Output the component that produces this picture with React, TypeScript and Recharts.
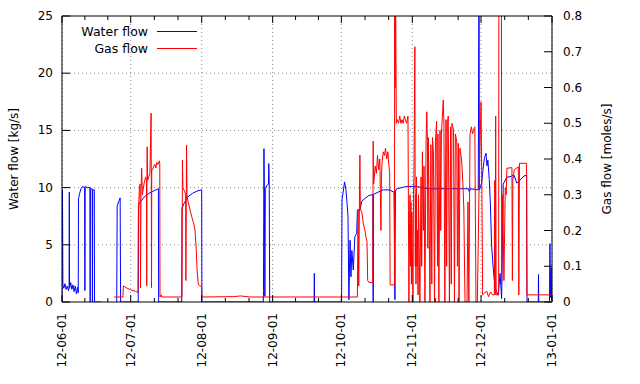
import React from "react"
import { CartesianGrid, Legend, Line, LineChart, XAxis, YAxis } from "recharts"

// days counted from 2012-06-01
const monthDays = [0, 30, 61, 92, 122, 153, 183, 214]
const monthLabels = [
  "12-06-01",
  "12-07-01",
  "12-08-01",
  "12-09-01",
  "12-10-01",
  "12-11-01",
  "12-12-01",
  "13-01-01"
]
const waterTicks = [0, 5, 10, 15, 20, 25]
const gasTicks = [0, 0.1, 0.2, 0.3, 0.4, 0.5, 0.6, 0.7, 0.8]

// [day, kg/s]  (null = no data)
const waterFlow: [number, number | null][] = [
  [0, 0], [0.2, 9.8], [0.4, 1.5], [0.8, 1.2], [1.3, 1.6], [1.8, 1.1], [2.3, 1.4],
  [2.8, 1.0], [3.1, 1.3], [3.2, 9.6], [3.3, 1.2], [3.8, 1.7], [4.3, 1.1], [4.8, 1.5],
  [5.3, 0.9], [5.8, 1.4], [6.3, 0.7], [6.8, 1.3], [7.1, 0.8], [7.2, 9.0], [7.7, 9.5],
  [8.3, 9.9], [9.0, 10.1], [9.9, 10.0], [10.0, 1.0], [10.1, 10.1], [11.0, 10.0],
  [12.2, 10.0], [12.3, 0], [12.4, 9.9], [13.2, 9.9], [13.3, 0], [13.4, 9.8], [14.1, 9.8],
  [14.2, 0], [17.0, 0], [20, null], [23.9, 0], [24.1, 8.4], [24.8, 8.8], [25.4, 9.1],
  [25.6, 0], [33.3, 0], [33.4, 8.5], [34.5, 8.8], [36, 9.2], [38, 9.5], [40, 9.7],
  [42.1, 9.9], [42.2, 0], [52.3, 0], [52.4, 8.2], [53.5, 8.7], [55, 9.2], [57, 9.5],
  [59, 9.7], [61.0, 9.8], [61.1, 0], [87.9, 0], [88.0, 1.0], [88.2, 13.4], [88.4, 9.2],
  [88.6, 0.5], [88.8, 9.9], [89.5, 10.2], [90.2, 10.3], [90.3, 12.1], [90.5, 10.3],
  [90.7, 0], [110.1, 0], [110.2, 2.5], [110.3, 0], [122.1, 0], [122.3, 9.0], [122.8, 9.6],
  [123.4, 10.5], [124.0, 9.8], [124.5, 8.6], [124.9, 7.5], [125.3, 0.2], [125.8, 5.4],
  [126.2, 2.2], [126.6, 4.5], [127.2, 2.8], [127.9, 5.7], [128.7, 6.0], [129.0, 8.0],
  [130.1, 8.0], [130.9, 8.8], [132, 9.0], [134, 9.3], [135.8, 9.4], [135.9, 0],
  [136.0, 9.4], [138, 9.6], [140.3, 9.8], [143, 9.8], [145.0, 9.6], [145.4, 0.2],
  [145.6, 9.7], [146.2, 9.9], [150.5, 10.1], [154.9, 10.1], [157, 10.0], [160, 9.9],
  [169.4, 9.9], [177.5, 9.9], [177.9, 9.6], [178.3, 9.9], [181.8, 9.8], [182.1, 28],
  [182.3, 9.8], [183.3, 10.4], [183.8, 11.5], [184.5, 12.6], [185.2, 13.0], [185.6, 11.9],
  [186.0, 12.4], [186.6, 10.7], [187.1, 8.5], [187.6, 5.0], [188.4, 2.8], [189.1, 1.3],
  [189.8, 0.9], [190.5, 0.6], [191.3, 2.5], [192.0, 0.3], [192.7, 10.3], [194.2, 10.9],
  [196.4, 11.0], [197.4, 11.1], [198.6, 10.4], [199.3, 10.5], [200.7, 10.8], [201.7, 11.0],
  [202.9, 11.1], [203.1, 0], [208.0, 0], [208.1, 2.4], [208.2, 0], [212.9, 0], [213.1, 5.1],
  [213.3, 0.4], [213.6, 3.0], [213.8, 0.2], [214, 1.0]
]

// [day, moles/s]
const gasFlow: [number, number][] = [
  [22.8, 0.014], [26.6, 0.014], [26.8, 0.045], [28, 0.04], [30, 0.034], [32, 0.03],
  [33.2, 0.027], [33.4, 0.26], [33.8, 0.32], [34.1, 0.33], [34.3, 0.04], [34.5, 0.31],
  [34.8, 0.374], [35.1, 0.3], [35.8, 0.33], [36.5, 0.35], [36.9, 0.34], [37.0, 0.045],
  [37.1, 0.35], [37.2, 0.434], [37.4, 0.34], [37.9, 0.35], [38.4, 0.36], [38.9, 0.528],
  [39.0, 0.36], [39.1, 0.04], [39.2, 0.37], [39.6, 0.37], [40.1, 0.38], [40.6, 0.385],
  [41.0, 0.375], [41.4, 0.39], [42.0, 0.385], [42.5, 0.395], [42.7, 0.388], [42.8, 0.014],
  [43.3, 0.02], [43.6, 0.014], [52.4, 0.014], [52.6, 0.397], [52.8, 0.32], [53.5, 0.31],
  [54.0, 0.3], [54.1, 0.06], [54.3, 0.3], [54.4, 0.439], [54.6, 0.3], [55.1, 0.28],
  [56.2, 0.25], [56.6, 0.24], [57.5, 0.22], [58.1, 0.2], [58.6, 0.15], [59.0, 0.09],
  [59.5, 0.05], [60.2, 0.045], [61.0, 0.043], [61.1, 0.014], [75, 0.015], [78, 0.017],
  [82, 0.014], [100, 0.014], [129.0, 0.014], [129.3, 0.26], [129.6, 0.045], [129.9, 0.28],
  [130.1, 0.411], [130.3, 0.26], [131.0, 0.25], [131.6, 0.22], [132.3, 0.2], [132.8, 0.18],
  [133.2, 0.17], [133.5, 0.06], [134.0, 0.055], [135.7, 0.054], [135.9, 0.45], [136.1, 0.33],
  [136.4, 0.35], [136.8, 0.38], [137.3, 0.36], [137.8, 0.41], [138.3, 0.37], [138.8, 0.4],
  [139.3, 0.2], [139.5, 0.35], [139.8, 0.39], [140.3, 0.42], [140.8, 0.41], [141.3, 0.43],
  [141.8, 0.4], [142.3, 0.42], [142.8, 0.38], [143.1, 0.36], [143.3, 0.048], [145.2, 0.048],
  [145.3, 0.9], [145.5, 0.6], [145.7, 0.9], [146.0, 0.5], [146.5, 0.51], [147.0, 0.5],
  [147.5, 0.52], [148.0, 0.5], [148.5, 0.51], [149.0, 0.5], [149.5, 0.52], [150.0, 0.51],
  [150.5, 0.5], [151.1, 0.52], [151.5, 0.0], [151.8, 0.22], [152.0, 0.3], [152.2, 0.1],
  [152.4, 0.28], [152.6, 0.05], [152.8, 0.25], [153.0, 0.15], [153.3, 0.0], [153.5, 0.3],
  [153.7, 0.35], [154.1, 0.714], [154.3, 0.1], [154.4, 0.3], [154.6, 0.05], [154.8, 0.35],
  [155.0, 0.1], [155.2, 0.2], [155.5, 0.02], [155.7, 0.3], [156.0, 0.15], [156.3, 0.0],
  [156.8, 0.35], [157.1, 0.1], [157.4, 0.42], [157.8, 0.2], [158.1, 0.38], [158.5, 0.0],
  [159.0, 0.45], [159.3, 0.532], [159.6, 0.45], [159.8, 0.15], [160.0, 0.46], [160.7, 0.0],
  [161.1, 0.44], [161.5, 0.05], [161.8, 0.46], [162.2, 0.42], [162.7, 0.0], [163.1, 0.45],
  [163.6, 0.506], [164.0, 0.1], [164.2, 0.47], [164.6, 0.0], [165.1, 0.48], [165.4, 0.2],
  [165.7, 0.47], [166.5, 0.565], [166.8, 0.5], [167.2, 0.0], [167.7, 0.51], [168.0, 0.1],
  [168.3, 0.5], [168.7, 0.52], [169.2, 0.0], [169.7, 0.49], [170.0, 0.05], [170.3, 0.5],
  [171.0, 0.48], [171.4, 0.0], [171.8, 0.47], [172.4, 0.45], [172.7, 0.1], [173.1, 0.444],
  [173.4, 0.0], [173.8, 0.43], [174.5, 0.4], [175.1, 0.33], [175.5, 0.26], [176.0, 0.0],
  [176.9, 0.0], [177.3, 0.28], [177.7, 0.0], [178.2, 0.47], [178.8, 0.49], [179.3, 0.47],
  [179.7, 0.48], [180.3, 0.49], [180.8, 0.0], [181.4, 0.0], [182.1, 0.3], [183.0, 0.56],
  [183.4, 0.3], [183.7, 0.02], [184.5, 0.025], [185.5, 0.03], [186.3, 0.015], [187.2, 0.028],
  [188.0, 0.02], [188.8, 0.02], [189.0, 0.34], [189.2, 0.02], [189.4, 0.52], [189.6, 0.02],
  [190.7, 0.02], [190.8, 0.95], [191.9, 0.95], [192.0, 0.05], [192.5, 0.3], [193.0, 0.06],
  [193.6, 0.32], [194.0, 0.3], [194.3, 0.374], [196.5, 0.376], [196.7, 0.06], [196.9, 0.34],
  [197.5, 0.37], [199.3, 0.378], [199.5, 0.02], [199.8, 0.388], [202.9, 0.388], [203.0, 0.02],
  [214, 0.02]
]

const waterColor = "#0000ff"
const gasColor = "#ff0000"
const font = "'DejaVu Sans', sans-serif"

const waterData = waterFlow.map(([d, v]) => ({ d, v }))
const gasData = gasFlow.map(([d, v]) => ({ d, v }))

// minor ticks: two per month interval
const minorDays: number[] = []
monthDays.slice(1).forEach((end, i) => {
  const start = monthDays[i]
  minorDays.push(start + (end - start) / 3, start + (2 * (end - start)) / 3)
})
const allXTicks = [...monthDays, ...minorDays].sort((a, b) => a - b)

function BottomTick(props: any) {
  const { x, y, payload } = props
  const i = monthDays.indexOf(payload.value)
  const major = i >= 0
  return (
    <g>
      <line x1={x} y1={y} x2={x} y2={y - (major ? 7 : 4)} stroke="#000" />
      {major && (
        <text
          x={x}
          y={y + 11}
          transform={`rotate(-90 ${x} ${y + 11})`}
          textAnchor="end"
          dominantBaseline="central"
          fontSize={12}
          fontFamily={font}
          fill="#000">
          {monthLabels[i]}
        </text>
      )}
    </g>
  )
}

function TopTick(props: any) {
  const { x, y, payload } = props
  const major = monthDays.indexOf(payload.value) >= 0
  return <line x1={x} y1={y} x2={x} y2={y + (major ? 7 : 4)} stroke="#000" />
}

function LeftTick(props: any) {
  const { x, y, payload } = props
  return (
    <g>
      <line x1={x} y1={y} x2={x + 8} y2={y} stroke="#000" />
      <text
        x={x - 9}
        y={y}
        textAnchor="end"
        dominantBaseline="central"
        fontSize={12}
        fontFamily={font}
        fill="#000">
        {payload.value}
      </text>
    </g>
  )
}

function RightTick(props: any) {
  const { x, y, payload } = props
  return (
    <g>
      <line x1={x} y1={y} x2={x - 8} y2={y} stroke="#000" />
      <text
        x={x + 11}
        y={y}
        textAnchor="start"
        dominantBaseline="central"
        fontSize={12}
        fontFamily={font}
        fill="#000">
        {payload.value}
      </text>
    </g>
  )
}

function AxisTitle(props: any) {
  const { viewBox, value, cx } = props
  const cy = viewBox.y + viewBox.height / 2
  return (
    <text
      x={cx}
      y={cy}
      transform={`rotate(-90 ${cx} ${cy})`}
      textAnchor="middle"
      dominantBaseline="central"
      fontSize={12}
      fontFamily={font}
      fill="#000">
      {value}
    </text>
  )
}

const legendItems = [
  { name: "Water flow", color: waterColor },
  { name: "Gas flow", color: gasColor }
]

function Key() {
  return (
    <div style={{ width: 197 }}>
      {legendItems.map((item) => (
        <div
          key={item.name}
          style={{
            display: "flex",
            alignItems: "center",
            justifyContent: "flex-end",
            height: 17
          }}>
          <span
            style={{
              fontFamily: font,
              fontSize: 12.5,
              color: "#000",
              marginRight: 9
            }}>
            {item.name}
          </span>
          <span
            style={{
              display: "inline-block",
              width: 40,
              height: 0,
              borderTop: `1px solid ${item.color}`
            }}
          />
        </div>
      ))}
    </div>
  )
}

export default function App() {
  return (
    <div style={{ position: "absolute", left: 0, top: 0, background: "#fff" }}>
      <LineChart
        width={640}
        height={384}
        margin={{ top: 15, right: 0, bottom: 0, left: 0 }}>
        <CartesianGrid
          xAxisId="bottom"
          yAxisId="left"
          stroke="#888"
          strokeDasharray="1 3"
          verticalValues={monthDays}
          horizontalValues={[5, 10, 15, 20]}
        />
        <XAxis
          xAxisId="bottom"
          dataKey="d"
          type="number"
          domain={[0, 214]}
          allowDataOverflow
          ticks={allXTicks}
          interval={0}
          height={82}
          tickSize={0}
          tickMargin={0}
          tickLine={false}
          axisLine={{ stroke: "#000" }}
          tick={<BottomTick />}
        />
        <XAxis
          xAxisId="top"
          orientation="top"
          dataKey="d"
          type="number"
          domain={[0, 214]}
          allowDataOverflow
          ticks={allXTicks}
          interval={0}
          height={1}
          tickSize={0}
          tickMargin={0}
          tickLine={false}
          axisLine={{ stroke: "#000" }}
          tick={<TopTick />}
        />
        <YAxis
          yAxisId="left"
          domain={[0, 25]}
          allowDataOverflow
          ticks={waterTicks}
          interval={0}
          width={62}
          tickSize={0}
          tickMargin={0}
          tickLine={false}
          axisLine={{ stroke: "#000" }}
          tick={<LeftTick />}
          label={<AxisTitle value="Water flow [kg/s]" cx={14} />}
        />
        <YAxis
          yAxisId="right"
          orientation="right"
          domain={[0, 0.8]}
          allowDataOverflow
          ticks={gasTicks}
          interval={0}
          width={88}
          tickSize={0}
          tickMargin={0}
          tickLine={false}
          axisLine={{ stroke: "#000" }}
          tick={<RightTick />}
          label={<AxisTitle value="Gas flow [moles/s]" cx={607} />}
        />
        <Legend
          layout="horizontal"
          align="center"
          verticalAlign="middle"
          content={() => <Key />}
          wrapperStyle={{ left: 0, top: 23, width: 197 }}
        />
        <Line
          xAxisId="bottom"
          yAxisId="left"
          data={waterData}
          dataKey="v"
          name="Water flow"
          stroke={waterColor}
          strokeWidth={1}
          dot={false}
          activeDot={false}
          isAnimationActive={false}
        />
        <Line
          xAxisId="bottom"
          yAxisId="right"
          data={gasData}
          dataKey="v"
          name="Gas flow"
          stroke={gasColor}
          strokeWidth={1}
          dot={false}
          activeDot={false}
          isAnimationActive={false}
        />
      </LineChart>
    </div>
  )
}
